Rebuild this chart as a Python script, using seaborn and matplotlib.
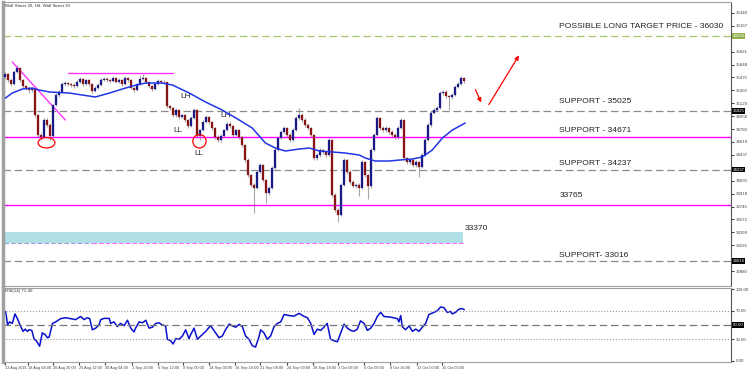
import numpy as np
import pandas as pd
import seaborn as sns
import matplotlib.pyplot as plt
from matplotlib.patches import Ellipse, Rectangle

sns.set_style('white')
plt.rcParams['font.family'] = ['Liberation Sans', 'DejaVu Sans']

# Wall Street 30, H4 candles (13 Aug - 15 Oct 2021)
first_open = 35480
close = [35520, 35440, 35385, 35550, 35600, 35440, 35360, 35335, 35305, 35320,
         34970, 34705, 34675, 34905, 34840, 34690, 35105, 35240, 35280, 35385,
         35400, 35385, 35375, 35360, 35415, 35455, 35385, 35440, 35385, 35295,
         35335, 35375, 35440, 35455, 35440, 35425, 35465, 35415, 35440, 35385,
         35465, 35440, 35335, 35305, 35385, 35455, 35465, 35415, 35360, 35320,
         35385, 35425, 35415, 35410, 35090, 35065, 34970, 35040, 34945, 34970,
         34905, 34825, 34930, 35040, 34690, 34770, 34880, 34945, 34880, 34795,
         34675, 34635, 34690, 34770, 34850, 34825, 34705, 34770, 34675, 34570,
         34370, 34165, 34035, 33995, 34210, 34300, 34100, 33925, 33995, 34260,
         34500, 34665, 34745, 34795, 34705, 34635, 34770, 34930, 34970, 34905,
         34840, 34795, 34705, 34395, 34435, 34500, 34475, 34435, 34635, 33900,
         33700, 33630, 34035, 34370, 34210, 34075, 34020, 34035, 33995, 34340,
         34165, 34020, 34500, 34705, 34930, 34795, 34770, 34795, 34745, 34705,
         34675, 34795, 34905, 34395, 34340, 34370, 34300, 34340, 34275, 34435,
         34635, 34835, 35000, 35040, 35065, 35265, 35280, 35225, 35210, 35240,
         35345, 35385, 35465, 35425]
high = [35545, 35535, 35455, 35570, 35640, 35610, 35455, 35380, 35350, 35345,
        35330, 34990, 34730, 34930, 34925, 34860, 35120, 35260, 35300, 35410,
        35425, 35420, 35405, 35395, 35440, 35475, 35470, 35460, 35455, 35400,
        35355, 35400, 35465, 35480, 35475, 35460, 35490, 35480, 35465, 35455,
        35490, 35485, 35450, 35350, 35400, 35510, 35520, 35480, 35430, 35375,
        35405, 35450, 35445, 35440, 35420, 35110, 35080, 35060, 35055, 34990,
        34985, 34920, 34955, 35065, 35050, 34790, 34900, 34970, 34960, 34895,
        34810, 34700, 34715, 34790, 34875, 34880, 34840, 34790, 34785, 34690,
        34585, 34390, 34185, 34060, 34235, 34325, 34320, 34120, 34020, 34285,
        34525, 34690, 34770, 34820, 34815, 34725, 34795, 34955, 35065, 35000,
        34925, 34860, 34815, 34720, 34460, 34525, 34520, 34495, 34660, 34650,
        33920, 33725, 34060, 34395, 34385, 34230, 34095, 34060, 34055, 34365,
        34360, 34185, 34525, 34730, 34960, 34945, 34820, 34820, 34815, 34770,
        34725, 34820, 34930, 34920, 34415, 34395, 34390, 34365, 34360, 34460,
        34660, 34860, 35025, 35065, 35090, 35290, 35305, 35300, 35245, 35265,
        35370, 35410, 35490, 35480]
low = [35460, 35420, 35360, 35370, 35530, 35420, 35340, 35300, 35270, 35285,
       34950, 34680, 34630, 34660, 34810, 34640, 34680, 35090, 35215, 35270,
       35365, 35360, 35350, 35340, 35345, 35400, 35365, 35370, 35360, 35265,
       35280, 35320, 35360, 35425, 35420, 35400, 35410, 35395, 35400, 35360,
       35370, 35420, 35315, 35280, 35290, 35370, 35440, 35395, 35340, 35295,
       35305, 35370, 35395, 35390, 35070, 35040, 34945, 34950, 34920, 34925,
       34880, 34800, 34810, 34915, 34670, 34640, 34755, 34860, 34855, 34770,
       34650, 34610, 34615, 34675, 34755, 34800, 34680, 34690, 34650, 34545,
       34345, 34140, 34010, 33655, 33975, 34190, 34080, 33790, 33900, 33980,
       34245, 34485, 34650, 34725, 34680, 34610, 34620, 34755, 34910, 34880,
       34815, 34770, 34680, 34370, 34375, 34415, 34450, 34410, 34420, 33875,
       33670, 33535, 33615, 34015, 34185, 34050, 33995, 33990, 33880, 33975,
       34140, 33850, 34000, 34485, 34690, 34770, 34745, 34750, 34720, 34680,
       34650, 34655, 34780, 34370, 34315, 34310, 34275, 34280, 34140, 34255,
       34420, 34620, 34815, 34985, 35020, 35050, 35245, 35200, 35040, 35190,
       35225, 35330, 35370, 35405]

# moving average (blue line), sampled at bar indices
ma_bar = [0, 2.3, 5.7, 9, 11.3, 14.7, 21.3, 25.7, 30, 34.7,
          39, 42.3, 46.7, 52.3, 55.7, 61.3, 66.7, 72.3, 78, 82.3,
          86.7, 90, 93.3, 98, 101.3, 104.7, 109, 113.3, 118, 120,
          123.3, 128, 131.3, 135.7, 139, 142.3, 145.7, 149, 153.3]
ma_val = [35199, 35266, 35320, 35333, 35306, 35280, 35266, 35239, 35213, 35266,
          35320, 35360, 35400, 35400, 35373, 35266, 35146, 35038, 34904, 34797,
          34596, 34529, 34489, 34516, 34529, 34489, 34476, 34462, 34435, 34395,
          34355, 34355, 34368, 34382, 34409, 34502, 34663, 34770, 34864]

# RSI(14)
rsi_bar = [0, 0.3, 0.7, 1.4, 2.3, 3.2, 4.0, 5.1, 5.9, 6.6,
           7.3, 7.9, 8.8, 9.6, 10.3, 11.4, 12.3, 13.2, 14.0, 14.6,
           15.7, 16.8, 18.4, 20.1, 21.8, 23.4, 25.1, 26.2, 27.3, 28.1,
           29.0, 30.1, 31.2, 31.8, 32.9, 34.6, 35.1, 36.2, 37.3, 38.4,
           39.6, 40.7, 41.8, 42.9, 43.4, 44.6, 45.7, 46.8, 47.9, 49.0,
           50.1, 51.2, 52.3, 53.4, 54.0, 55.1, 55.9, 56.8, 57.9, 59.0,
           60.1, 61.2, 61.8, 62.9, 64.0, 65.7, 66.8, 68.4, 70.1, 71.2,
           72.3, 73.4, 74.6, 75.7, 76.8, 77.9, 79.0, 80.1, 81.2, 82.3,
           83.4, 84.6, 85.1, 86.2, 87.3, 88.4, 89.6, 90.7, 91.8, 92.9,
           94.6, 96.2, 97.9, 99.6, 100.7, 101.8, 102.9, 104.0, 105.1, 106.2,
           107.3, 108.4, 109.6, 110.7, 111.8, 112.9, 114.0, 115.1, 116.2, 117.3,
           118.4, 119.6, 120.7, 121.8, 122.9, 124.0, 125.1, 126.2, 128.4, 130.7,
           131.2, 131.8, 132.3, 133.4, 134.6, 135.7, 136.8, 137.9, 139.0, 140.1,
           141.2, 142.9, 144.0, 145.1, 146.2, 147.3, 148.4, 149.0, 150.1, 151.2,
           152.3, 153.0]
rsi_val = [69.1, 63.3, 50.0, 54.4, 52.2, 65.6, 58.9, 47.8, 41.1, 44.2,
           41.1, 43.3, 42.4, 30.0, 27.8, 20.2, 38.9, 36.7, 32.2, 33.1,
           52.2, 54.4, 58.9, 60.2, 58.9, 57.6, 62.0, 57.6, 60.2, 58.9,
           43.3, 45.6, 50.0, 57.6, 59.3, 59.3, 52.2, 54.4, 47.8, 52.2,
           49.1, 56.7, 45.6, 40.2, 45.6, 54.4, 53.1, 56.7, 45.6, 46.9,
           52.2, 53.1, 50.0, 48.7, 30.0, 27.8, 23.3, 30.9, 30.0, 34.4,
           43.3, 30.9, 36.7, 45.6, 30.0, 36.7, 41.1, 49.1, 38.9, 32.2,
           34.4, 43.3, 51.3, 48.7, 46.9, 50.9, 47.8, 34.4, 30.0, 21.1,
           18.9, 34.4, 43.3, 38.9, 30.0, 34.4, 47.8, 52.2, 54.4, 64.7,
           63.3, 62.4, 66.4, 62.0, 60.2, 52.2, 36.7, 44.2, 42.4, 46.9,
           52.2, 30.0, 27.8, 26.4, 38.9, 51.3, 45.6, 42.4, 41.1, 44.2,
           55.8, 52.2, 42.4, 45.6, 52.2, 62.0, 67.8, 62.0, 61.1, 58.9,
           54.4, 63.3, 47.8, 43.3, 48.7, 41.1, 44.2, 41.1, 46.9, 52.2,
           64.7, 67.8, 70.0, 75.3, 74.4, 67.8, 69.1, 65.6, 67.8, 72.2,
           73.1, 71.4]

# levels drawn on the chart
target_level = 36030
support_levels = [35025, 34237, 33016]
pink_levels = [34671, 33765]
zone_bottom, zone_top = 33256, 33404
top_line_level = 35534

price_ticks = [36340, 36167, 35821, 35648, 35475, 35302, 35129, 34956, 34783,
               34610, 34437, 34091, 33918, 33745, 33572, 33399, 33226, 32880]
date_pos = [0, 7.5, 16, 24.7, 33.3, 42.3, 51, 59.3, 68, 76.7, 85, 94, 102.7,
            111, 119.7, 128.3, 137.3, 145.7]
date_lbl = ['13 Aug 2021', '18 Aug 04:00', '20 Aug 20:00', '25 Aug 12:00',
            '30 Aug 04:00', '1 Sep 20:00', '6 Sep 12:00', '9 Sep 00:00',
            '14 Sep 00:00', '16 Sep 16:00', '21 Sep 08:00', '24 Sep 00:00',
            '28 Sep 16:00', '1 Oct 08:00', '6 Oct 00:00', '8 Oct 16:00',
            '13 Oct 00:00', '15 Oct 00:00']

df = pd.DataFrame({'close': close, 'high': high, 'low': low})
df['open'] = [first_open] + close[:-1]
df['bar'] = np.arange(len(df))
up = df.close >= df.open

fig = plt.figure(figsize=(7.5, 3.72), dpi=100)
ax = fig.add_axes([0.004, 1 - 286 / 372, 0.971, 284 / 372])
ax2 = fig.add_axes([0.004, 1 - 362 / 372, 0.971, 74 / 372])

# candles
ax.vlines(df.bar, df.low, df.high, color='#a8a8a8', lw=0.8, zorder=2)
ax.bar(df.bar[up], (df.close - df.open)[up], bottom=df.open[up], width=0.62,
       color='#1a1a86', edgecolor='#1a1a86', lw=0.2, zorder=3)
ax.bar(df.bar[~up], (df.close - df.open)[~up], bottom=df.open[~up], width=0.62,
       color='#861414', edgecolor='#861414', lw=0.2, zorder=3)
sns.lineplot(x=ma_bar, y=ma_val, ax=ax, color='#2036e6', lw=1.1, zorder=4)

dash = (0, (6, 3))
ax.axhline(target_level, color='#a8c86c', ls=dash, lw=0.9)
for lvl in support_levels:
    ax.axhline(lvl, color='#8c8c8c', ls=dash, lw=0.9)
for lvl in pink_levels:
    ax.axhline(lvl, color='#ff00ff', lw=1.0)
ax.plot([21, 56], [top_line_level, top_line_level], color='#ff33ff', lw=1.0)
ax.plot([2.3, 20], [35681, 34904], color='#ff33ff', lw=1.0)

ax.add_patch(Rectangle((-0.6, zone_bottom), 153.3, zone_top - zone_bottom,
                       color='#b0e0e6', lw=0, zorder=1))
ax.plot([-0.6, 29], [zone_bottom, zone_bottom], color='#9999dd', ls=(0, (4, 2)), lw=0.8)
ax.plot([29, 153.3], [zone_bottom, zone_bottom], color='#ff66ff', ls=(0, (4, 2)), lw=0.8)

ax.add_patch(Ellipse((13.7, 34600), 5.6, 140, fill=False, ec='red', lw=0.9, zorder=5))
ax.add_patch(Ellipse((64.7, 34620), 4.4, 180, fill=False, ec='red', lw=0.9, zorder=5))

for txt, x, y in [('LH', 60, 35213), ('LL', 57.7, 34770), ('LH', 73.3, 34971), ('LL', 64.7, 34462)]:
    ax.text(x, y, txt, fontsize=6, color='#333333', ha='center', va='center')

ax.annotate('', xy=(159, 35105), xytext=(156.3, 35347),
            arrowprops=dict(arrowstyle='-|>', color='red', lw=0.9, mutation_scale=6))
ax.annotate('', xy=(171.7, 35802), xytext=(160.7, 35079),
            arrowprops=dict(arrowstyle='-|>', color='red', lw=0.9, mutation_scale=6))

lab = dict(fontsize=6.1, color='#222222', va='center', ha='left')
ax.text(184.7, 36164, 'POSSIBLE LONG TARGET PRICE - 36030', **lab)
ax.text(184.7, 35146, 'SUPPORT - 35025', **lab)
ax.text(184.7, 34770, 'SUPPORT - 34671', **lab)
ax.text(184.7, 34328, 'SUPPORT - 34237', **lab)
ax.text(184.7, 33899, '33765', **lab)
ax.text(153.3, 33457, '33370', **lab)
ax.text(184.7, 33095, 'SUPPORT- 33016', **lab)

ax.text(0.003, 0.995, 'Wall Street 30, H4: Wall Street 30', transform=ax.transAxes,
        fontsize=3.2, va='top', ha='left', color='#333333')

ax.set_xlim(-0.8, 242)
ax.set_ylim(32680, 36486)
ax.set_xticks([])
ax.yaxis.tick_right()
ax.set_yticks(price_ticks)
ax.set_yticklabels([str(v) for v in price_ticks])
ax.tick_params(axis='y', labelsize=3.2, length=2, pad=1, right=True, colors='#444444')
for lvl, c in [(target_level, '#8fb04a'), (35025, 'black'), (34237, 'black'), (33016, 'black')]:
    ax.text(1.002, lvl, str(lvl), transform=ax.get_yaxis_transform(), fontsize=3.2,
            color='white', va='center', ha='left',
            bbox=dict(boxstyle='square,pad=0.15', fc=c, ec='none'))

# RSI panel
sns.lineplot(x=rsi_bar, y=rsi_val, ax=ax2, color='#0a10cc', lw=1.1)
ax2.axhline(70, color='#999999', ls=':', lw=0.8)
ax2.axhline(30, color='#999999', ls=':', lw=0.8)
ax2.axhline(50, color='#777777', ls=dash, lw=0.9)
ax2.text(0.003, 0.99, 'RSI(14) 71.40', transform=ax2.transAxes, fontsize=3.2,
         va='top', ha='left', color='#333333')
ax2.set_xlim(-0.8, 242)
ax2.set_ylim(-2, 102)
ax2.yaxis.tick_right()
ax2.set_yticks([0, 30, 70, 100])
ax2.set_yticklabels(['0.00', '30.00', '70.00', '100.00'])
ax2.tick_params(axis='y', labelsize=3.2, length=2, pad=1, right=True, colors='#444444')
ax2.text(1.002, 50, '50.00', transform=ax2.get_yaxis_transform(), fontsize=3.2,
         color='white', va='center', ha='left',
         bbox=dict(boxstyle='square,pad=0.15', fc='black', ec='none'))
ax2.set_xticks(date_pos)
ax2.set_xticklabels(date_lbl, ha='left')
ax2.tick_params(axis='x', labelsize=2.8, length=2, pad=1, bottom=True, colors='#444444')

for a in (ax, ax2):
    for s in a.spines.values():
        s.set_color('#a0a0a0')
        s.set_linewidth(0.8)
    a.spines['left'].set_linewidth(2.5)
    a.spines['right'].set_color('#555555')
    a.set_xlabel('')
    a.set_ylabel('')

fig.savefig('out.png', dpi=100)
